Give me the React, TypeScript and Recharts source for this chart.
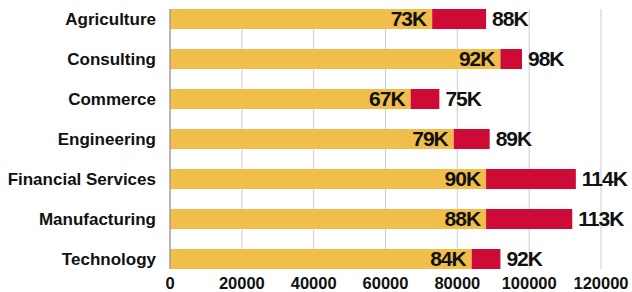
import React from "react";
import { BarChart, Bar, XAxis, YAxis, CartesianGrid, LabelList } from "recharts";

const categories = [
  "Agriculture",
  "Consulting",
  "Commerce",
  "Engineering",
  "Financial Services",
  "Manufacturing",
  "Technology",
];
const baseValues = [73000, 92000, 67000, 79000, 88000, 88000, 84000];
const totalValues = [88000, 98000, 75000, 89000, 113000, 112000, 92000];
const baseLabels = ["73K", "92K", "67K", "79K", "90K", "88K", "84K"];
const totalLabels = ["88K", "98K", "75K", "89K", "114K", "113K", "92K"];
const xTicks = [0, 20000, 40000, 60000, 80000, 100000, 120000];

const data = categories.map((name, i) => ({
  name,
  base: baseValues[i],
  extra: totalValues[i] - baseValues[i],
  baseLabel: baseLabels[i],
  totalLabel: totalLabels[i],
}));

const FONT = "'Liberation Sans', Arial, Helvetica, sans-serif";
const YELLOW = "#F1BE4B";
const RED = "#CE0B36";
const TEXT = "#111111";

export default function App() {
  return (
    <div style={{ position: "absolute", left: 0, top: 0, width: 632, height: 292, background: "#fff" }}>
      <BarChart
        width={632}
        height={292}
        data={data}
        layout="vertical"
        margin={{ top: 9, right: 31, bottom: 0, left: 0 }}
      >
        <CartesianGrid horizontal={false} vertical={true} stroke="#cccccc" />
        <XAxis
          type="number"
          domain={[0, 120000]}
          ticks={xTicks}
          interval={0}
          axisLine={false}
          tickLine={false}
          tickSize={0}
          tickMargin={8}
          height={23}
          tick={{ fill: TEXT, fontSize: 16.5, fontWeight: 700, fontFamily: FONT }}
        />
        <YAxis
          type="category"
          dataKey="name"
          width={170}
          padding={{ top: -10, bottom: -10 }}
          axisLine={{ stroke: "#888888" }}
          tickLine={false}
          tickSize={0}
          tickMargin={14}
          interval={0}
          tick={{ fill: TEXT, fontSize: 17, fontWeight: 700, fontFamily: FONT }}
        />
        <Bar dataKey="base" stackId="a" fill={YELLOW} barSize={20} isAnimationActive={false}>
          <LabelList
            dataKey="baseLabel"
            position="insideRight"
            offset={6}
            fill={TEXT}
            style={{ fontSize: 21, fontWeight: 700, fontFamily: FONT, letterSpacing: -1 }}
          />
        </Bar>
        <Bar dataKey="extra" stackId="a" fill={RED} barSize={20} isAnimationActive={false}>
          <LabelList
            dataKey="totalLabel"
            position="right"
            offset={6}
            fill={TEXT}
            style={{ fontSize: 21, fontWeight: 700, fontFamily: FONT, letterSpacing: -1 }}
          />
        </Bar>
      </BarChart>
    </div>
  );
}
